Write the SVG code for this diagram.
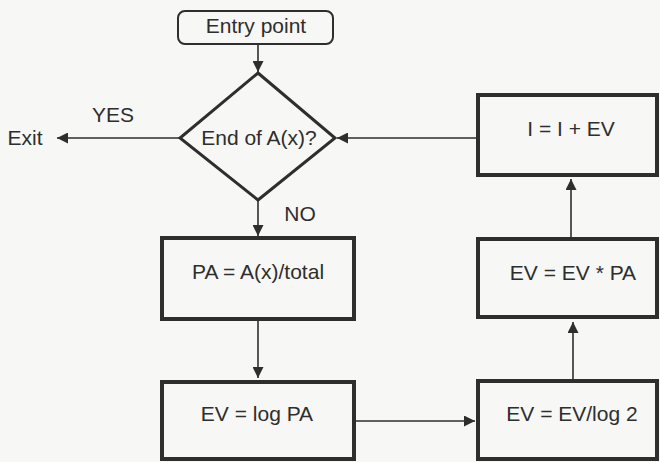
<svg xmlns="http://www.w3.org/2000/svg" width="660" height="462" viewBox="0 0 660 462">
  <style>
    text { font-family: "Liberation Sans", Arial, sans-serif; font-size: 21px; fill: #2e2e2e; text-anchor: middle; }
    .box { fill: none; stroke: #2e2e2e; stroke-width: 4; }
    .line { fill: none; stroke: #2e2e2e; stroke-width: 1.6; }
  </style>
  <defs>
    <marker id="arr" viewBox="0 0 10 10" refX="10" refY="5" markerWidth="11" markerHeight="11" markerUnits="userSpaceOnUse" orient="auto">
      <path d="M0,0 L10,5 L0,10 Z" fill="#2e2e2e"/>
    </marker>
  </defs>
  <rect width="660" height="462" fill="#f7f7f5"/>

  <g id="connectors">
    <line class="line" x1="258" y1="44" x2="258" y2="72" marker-end="url(#arr)"/>
    <line class="line" x1="180" y1="138" x2="57" y2="138" marker-end="url(#arr)"/>
    <line class="line" x1="477" y1="138" x2="337" y2="138" marker-end="url(#arr)"/>
    <line class="line" x1="258" y1="200" x2="258" y2="236" marker-end="url(#arr)"/>
    <line class="line" x1="258" y1="320" x2="258" y2="378" marker-end="url(#arr)"/>
    <line class="line" x1="355" y1="421" x2="475" y2="421" marker-end="url(#arr)"/>
    <line class="line" x1="573" y1="380" x2="573" y2="322" marker-end="url(#arr)"/>
    <line class="line" x1="571" y1="238" x2="571" y2="179" marker-end="url(#arr)"/>
  </g>

  <g id="entry">
    <rect x="178" y="11" width="155" height="33" rx="7" fill="none" stroke="#2e2e2e" stroke-width="2"/>
    <text x="256" y="33">Entry point</text>
  </g>

  <g id="decision">
    <path d="M258,73 L335,138 L258,200 L180,138 Z" fill="none" stroke="#2e2e2e" stroke-width="3"/>
    <text x="259" y="145">End of A(x)?</text>
  </g>

  <g id="exit">
    <text x="25" y="145">Exit</text>
  </g>

  <g id="labels">
    <text x="113" y="122">YES</text>
    <text x="300" y="221">NO</text>
  </g>

  <g id="pa">
    <rect class="box" x="162" y="238" width="192" height="81"/>
    <text x="258" y="279">PA = A(x)/total</text>
  </g>

  <g id="log-pa">
    <rect class="box" x="162" y="382" width="192" height="77"/>
    <text x="257" y="421">EV = log PA</text>
  </g>

  <g id="div-log2">
    <rect class="box" x="478" y="381" width="179" height="78"/>
    <text x="572" y="421">EV = EV/log 2</text>
  </g>

  <g id="mul-pa">
    <rect class="box" x="478" y="239" width="179" height="78"/>
    <text x="573" y="280">EV = EV * PA</text>
  </g>

  <g id="accum">
    <rect class="box" x="478" y="95" width="179" height="80"/>
    <text x="571" y="136">I = I + EV</text>
  </g>
</svg>
